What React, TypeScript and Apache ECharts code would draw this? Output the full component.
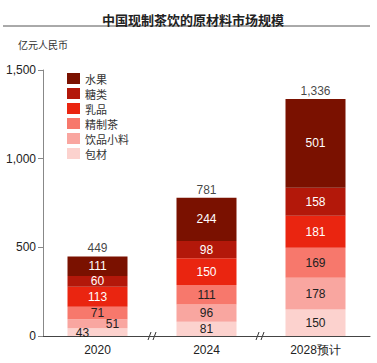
import React, { useEffect, useRef } from "react";
import * as echarts from "echarts";

const categories = ["2020", "2024", "2028预计"];
const seriesNames = ["包材", "饮品小料", "精制茶", "乳品", "糖类", "水果"];
const baoCai = [43, 81, 150];
const yinPinXiaoLiao = [51, 96, 178];
const jingZhiCha = [71, 111, 169];
const ruPin = [113, 150, 181];
const tangLei = [60, 98, 158];
const shuiGuo = [111, 244, 501];
const totals = [449, 781, 1336];
const yTicks = [0, 500, 1000, 1500];

const colors = ["#fcd2ce", "#f9a6a0", "#f7786c", "#ea2510", "#b3180a", "#7a1100"];
const labelColors = ["#222", "#222", "#222", "#fff", "#fff", "#fff"];

const fmt = (v: number) => v.toLocaleString("en-US");

export default function App() {
  const ref = useRef<HTMLDivElement>(null);
  useEffect(() => {
    if (!ref.current) return;
    const chart = echarts.init(ref.current, null, { renderer: "svg" });
    const values = [baoCai, yinPinXiaoLiao, jingZhiCha, ruPin, tangLei, shuiGuo];
    const series: any[] = values.map((vals, i) => ({
      name: seriesNames[i],
      type: "bar",
      stack: "total",
      barWidth: 60,
      itemStyle: { color: colors[i] },
      data: vals.map((v, j) => {
        const d: any = { value: v };
        if (j === 0 && i === 0) d.label = { offset: [-15, 1] };
        if (j === 0 && i === 1) d.label = { offset: [15, 0] };
        return d;
      }),
      label: {
        show: true,
        position: "inside",
        color: labelColors[i],
        fontFamily: "Liberation Sans, Arial",
        fontSize: 12,
        formatter: (p: any) => fmt(p.value),
      },
    }));
    series.push({
      type: "scatter",
      symbolSize: 0,
      data: totals,
      silent: true,
      label: {
        show: true,
        position: "top",
        distance: 2,
        color: "#111",
        fontFamily: "Liberation Sans, Arial",
        fontSize: 12,
        formatter: (p: any) => fmt(p.value),
      },
    });
    const brk = (x: number) => [
      { type: "line", shape: { x1: x - 5, y1: 340, x2: x - 2, y2: 332 }, style: { stroke: "#333", lineWidth: 1 } },
      { type: "line", shape: { x1: x, y1: 340, x2: x + 3, y2: 332 }, style: { stroke: "#333", lineWidth: 1 } },
    ];
    chart.setOption({
      animation: false,
      backgroundColor: "#fff",
      title: {
        text: "中国现制茶饮的原材料市场规模",
        left: 188,
        textAlign: "center",
        top: 8,
        textStyle: { fontSize: 13, fontWeight: "bold", color: "#222", fontFamily: "Noto Sans CJK SC" },
      },
      graphic: [
        { type: "line", shape: { x1: 3, y1: 26, x2: 370, y2: 26 }, style: { stroke: "#555", lineWidth: 1 } },
        {
          type: "text",
          left: 18,
          top: 39,
          style: { text: "亿元人民币", fontSize: 10, fill: "#333", fontFamily: "Noto Sans CJK SC" },
        },
        ...brk(153),
        ...brk(261),
      ],
      legend: {
        orient: "vertical",
        left: 62,
        top: 68,
        itemWidth: 13,
        itemHeight: 11,
        itemGap: 4,
        icon: "rect",
        data: ["水果", "糖类", "乳品", "精制茶", "饮品小料", "包材"],
        textStyle: { fontSize: 11, color: "#333", fontFamily: "Noto Sans CJK SC" },
      },
      grid: { left: 43, right: 7, top: 70, bottom: 27, containLabel: false },
      xAxis: {
        type: "category",
        data: categories,
        axisLine: { lineStyle: { color: "#444" } },
        axisTick: { show: false },
        axisLabel: { fontSize: 12, color: "#222", margin: 8, fontFamily: "Liberation Sans, Arial" },
      },
      yAxis: {
        type: "value",
        min: yTicks[0],
        max: yTicks[yTicks.length - 1],
        interval: 500,
        splitLine: { show: false },
        axisLine: { show: true, lineStyle: { color: "#888" } },
        axisTick: { show: true, length: 5, lineStyle: { color: "#888" } },
        axisLabel: {
          fontSize: 12,
          color: "#222",
          margin: 7,
          fontFamily: "Liberation Sans, Arial",
          formatter: (v: number) => fmt(v),
        },
      },
      series,
    });
    return () => chart.dispose();
  }, []);
  return <div ref={ref} style={{ width: 377, height: 363, position: "absolute", left: 0, top: 0 }} />;
}
